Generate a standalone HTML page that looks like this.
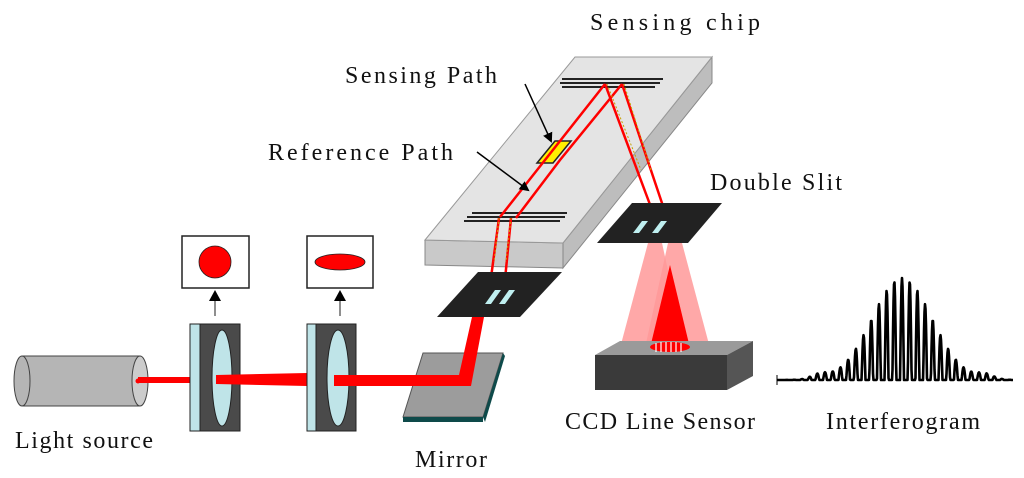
<!DOCTYPE html>
<html><head><meta charset="utf-8"><style>
body{margin:0;background:#fff;}
svg{display:block;font-family:"Liberation Serif",serif;}
</style></head><body>
<svg width="1024" height="478" viewBox="0 0 1024 478" xmlns="http://www.w3.org/2000/svg">
<defs>
<marker id="ah" markerWidth="10" markerHeight="10" refX="8" refY="5" orient="auto" markerUnits="userSpaceOnUse"><path d="M0,0 L10,5 L0,10z" fill="#000"/></marker>
</defs>
<!-- texts -->
<g font-size="24" fill="#111">
<text x="590" y="30" textLength="170" lengthAdjust="spacing">Sensing chip</text>
<text x="345" y="83" textLength="152" lengthAdjust="spacing">Sensing Path</text>
<text x="268" y="160" textLength="185" lengthAdjust="spacing">Reference Path</text>
<text x="710" y="190" textLength="132" lengthAdjust="spacing">Double Slit</text>
<text x="15" y="448" textLength="138" lengthAdjust="spacing">Light source</text>
<text x="415" y="467" textLength="72" lengthAdjust="spacing">Mirror</text>
<text x="565" y="429" textLength="190" lengthAdjust="spacing">CCD Line Sensor</text>
<text x="826" y="429" textLength="154" lengthAdjust="spacing">Interferogram</text>
</g>
<!-- chip -->
<polygon points="563,243 712,57 712,83 563,268" fill="#bdbdbd" stroke="#888" stroke-width="1"/>
<polygon points="425,240 563,243 563,268 425,265" fill="#c9c9c9" stroke="#888" stroke-width="1"/>
<polygon points="425,240 575,57 712,57 563,243" fill="#e4e4e4" stroke="#999" stroke-width="1"/>
<g stroke="#222" stroke-width="2">
<line x1="562" y1="79" x2="663" y2="79"/><line x1="560" y1="83" x2="660" y2="83"/><line x1="562" y1="87" x2="655" y2="87"/>
<line x1="472" y1="213" x2="567" y2="213"/><line x1="467" y1="217" x2="565" y2="217"/><line x1="464" y1="221" x2="560" y2="221"/>
</g>
<polygon points="537,163 555,141 571,141 553,163" fill="#ffee00" stroke="#222" stroke-width="1.5"/>
<g stroke="#f00" stroke-width="2.5" fill="none">
<polyline points="500,217 545,160 605,84"/>
<polyline points="516,218 560,160 622,84"/>
<line x1="605" y1="84" x2="655" y2="218"/>
<line x1="622" y1="84" x2="667" y2="218"/>
<line x1="499" y1="218" x2="488" y2="300"/>
<line x1="511" y1="218" x2="503" y2="300"/>
</g>
<g stroke="#c8a000" stroke-width="1" stroke-dasharray="2,2" fill="none">
<line x1="607" y1="84" x2="641" y2="170"/><line x1="624" y1="84" x2="651" y2="170"/>
<line x1="499" y1="218" x2="494" y2="262"/><line x1="511" y1="218" x2="506" y2="262"/>
</g>
<line x1="525" y1="84" x2="551" y2="141" stroke="#000" stroke-width="1.5" marker-end="url(#ah)"/>
<line x1="477" y1="152" x2="528" y2="190" stroke="#000" stroke-width="1.5" marker-end="url(#ah)"/>
<!-- lower slit plate -->
<polygon points="437,317 478,272 562,272 520,317" fill="#222"/>
<polygon points="485,304 495,290 501,290 491,304" fill="#bfeff0"/>
<polygon points="499,304 509,290 515,290 505,304" fill="#bfeff0"/>
<!-- mirror -->
<polygon points="403,417 423,353 503,353 483,417" fill="#9c9c9c" stroke="#555" stroke-width="1"/>
<polygon points="403,417 483,417 483,422 403,422" fill="#0e4a4a"/>
<polygon points="483,417 503,353 505,356 485,422" fill="#0e4a4a"/>
<!-- double slit plate -->
<polygon points="597,243 632,203 722,203 688,243" fill="#222"/>
<polygon points="633,233 642,221 648,221 639,233" fill="#bfeff0"/>
<polygon points="652,233 661,221 667,221 658,233" fill="#bfeff0"/>
<polygon points="648,243 662,243 685,348 620,348" fill="#f99" opacity="0.85"/>
<polygon points="668,243 682,243 710,348 645,348" fill="#f99" opacity="0.85"/>
<polygon points="670,265 650,348 690,348" fill="#f00"/>
<!-- CCD -->
<polygon points="595,355 620,341 753,341 727,355" fill="#9a9a9a"/>
<polygon points="727,355 753,341 753,376 727,390" fill="#555"/>
<rect x="595" y="355" width="132" height="35" fill="#3a3a3a"/>
<ellipse cx="670" cy="347" rx="20" ry="5" fill="#f00"/>
<g stroke="#fff" stroke-width="1.2"><line x1="656" y1="343" x2="656" y2="352"/><line x1="661" y1="342" x2="661" y2="352"/><line x1="666" y1="342" x2="666" y2="352"/><line x1="671" y1="342" x2="671" y2="352"/><line x1="676" y1="342" x2="676" y2="352"/><line x1="681" y1="343" x2="681" y2="352"/></g>
<!-- light source -->
<rect x="22" y="356" width="118" height="50" fill="#b5b5b5"/>
<ellipse cx="22" cy="381" rx="8" ry="25" fill="#b5b5b5" stroke="#444"/>
<line x1="22" y1="356" x2="140" y2="356" stroke="#444"/><line x1="22" y1="406" x2="140" y2="406" stroke="#444"/>
<ellipse cx="140" cy="381" rx="8" ry="25" fill="#ccc" stroke="#444"/>
<circle cx="138" cy="381" r="2.5" fill="#f00"/>
<rect x="138" y="377" width="52" height="6" fill="#f00"/>
<!-- lens 1 -->
<rect x="190" y="324" width="50" height="107" fill="#4a4a4a" stroke="#222"/>
<rect x="190" y="324" width="10" height="107" fill="#bfe4e8" stroke="#222"/>
<ellipse cx="222" cy="378" rx="10" ry="48" fill="#bfe4e8" stroke="#222"/>
<polygon points="216,375 307,373 307,386 216,384" fill="#f00"/>
<!-- lens 2 -->
<rect x="307" y="324" width="49" height="107" fill="#4a4a4a" stroke="#222"/>
<rect x="307" y="324" width="9" height="107" fill="#bfe4e8" stroke="#222"/>
<ellipse cx="338" cy="378" rx="11" ry="48" fill="#bfe4e8" stroke="#222"/>
<!-- beam lens2 -> mirror -> slit -->
<polygon points="334,375 459,375 472,317 484,317 471,386 334,386" fill="#f00"/>
<!-- boxes -->
<rect x="182" y="236" width="67" height="52" fill="#fff" stroke="#222" stroke-width="1.5"/>
<circle cx="215" cy="262" r="16" fill="#f00" stroke="#222" stroke-width="0.8"/>
<rect x="307" y="236" width="66" height="52" fill="#fff" stroke="#222" stroke-width="1.5"/>
<ellipse cx="340" cy="262" rx="25" ry="8" fill="#f00" stroke="#222" stroke-width="0.8"/>
<line x1="215" y1="316" x2="215" y2="298" stroke="#444" stroke-width="1.2"/>
<polygon points="209,301 221,301 215,290" fill="#000"/>
<line x1="340" y1="316" x2="340" y2="298" stroke="#444" stroke-width="1.2"/>
<polygon points="334,301 346,301 340,290" fill="#000"/>
<!-- interferogram -->
<polyline id="ifg" fill="none" stroke="#000" stroke-width="2.6" stroke-linejoin="round" points=""/>
<line x1="777" y1="375" x2="777" y2="385" stroke="#000"/>
<script>
(function(){var p=[];for(var x=777;x<=1013;x+=0.5){var d=x-902;var env=Math.exp(-d*d/(2*30*30));var side=0.08*(Math.exp(-Math.pow(x-820,2)/150)+Math.exp(-Math.pow(x-985,2)/150));var c=Math.cos(d*2*Math.PI/7.7);var y=380-(env*102+side*60)*Math.max(0,c);p.push(x.toFixed(1)+","+y.toFixed(1));}document.getElementById('ifg').setAttribute('points',p.join(' '));})();
</script>
</svg>
</body></html>
